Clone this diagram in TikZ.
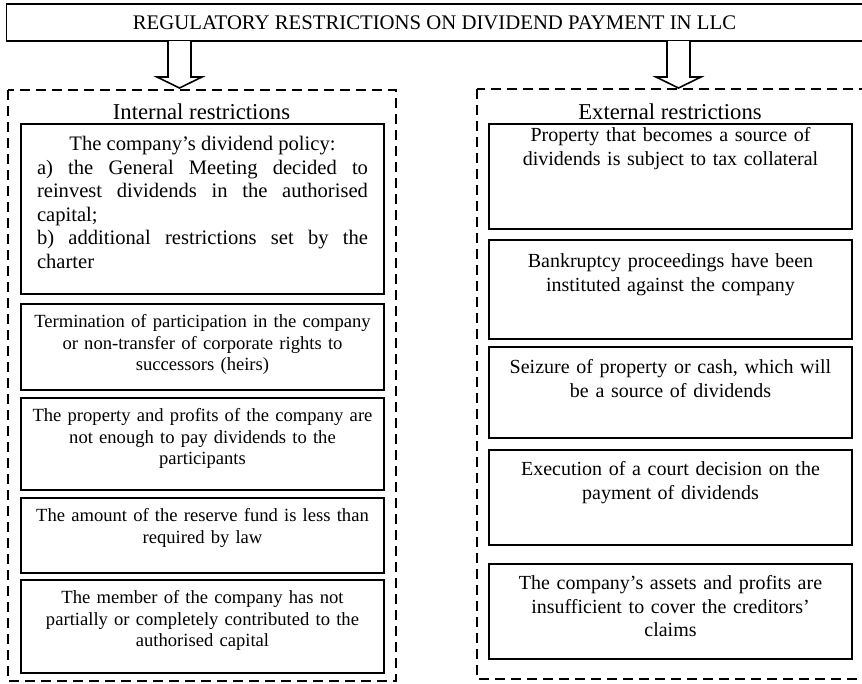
\documentclass[tikz,border=0pt]{standalone}
\usepackage{fontspec}
\setmainfont{Liberation Serif}
\begin{document}
\begin{tikzpicture}[x=1pt,y=-1pt,
  titolo/.style={draw, line width=1.6pt, minimum width=856pt, minimum height=37pt, inner sep=0pt, font=\fontsize{20.75}{24}\selectfont},
  gruppo/.style={line width=2pt, dash pattern=on 10pt off 6pt},
  freccia/.style={line width=1.6pt, fill=white, line join=miter},
  intest/.style={anchor=base, inner sep=0pt, font=\fontsize{22.7}{27}\selectfont},
  voce/.style={draw, line width=1.6pt, anchor=north, text width=343pt, inner xsep=10pt, inner ysep=6pt, align=center, text height=18pt, font=\fontsize{18.6}{21.5}\selectfont},
  voceest/.style={voce, font=\fontsize{20}{23.2}\selectfont}]
\useasboundingbox (0,0) rectangle (862,683);

% Titolo
\node[titolo] (title) at (434.5,22.5) {REGULATORY RESTRICTIONS ON DIVIDEND PAYMENT IN LLC};

% Frecce
\coordinate (f1) at (179.5,41);
\coordinate (f2) at (678.5,41);
\draw[freccia] (f1) ++(-11.5,0) -- ++(0,36) -- ++(-11,0) -- ++(22.5,11) -- ++(22.5,-11) -- ++(-11,0) -- ++(0,-36);
\draw[freccia] (f2) ++(-11.5,0) -- ++(0,36) -- ++(-11,0) -- ++(22.5,11) -- ++(22.5,-11) -- ++(-11,0) -- ++(0,-36);

% Gruppi tratteggiati
\draw[gruppo] (8,90) rectangle (396,681);
\draw[gruppo] (477,89) rectangle (875,679);

% Intestazioni
\node[intest] (hint) at (201.5,119) {Internal restrictions};
\node[intest] (hext) at (670,119) {External restrictions};

% Restrizioni interne
\node[voce, align=justify, inner xsep=16pt, text width=331pt, text height=21pt, text depth=137pt, font=\fontsize{20.6}{23.5}\selectfont] (i1) at (202.5,123)
  {{\centering The company’s dividend policy:\par}
   a) the General Meeting decided to\linebreak reinvest dividends in the authorised\linebreak capital;\par
   b) additional restrictions set by the\linebreak charter};
\node[voce, text depth=56pt] (i2) at (202.5,303) {Termination of participation in the company\\ or non-transfer of corporate rights to\\ successors (heirs)};
\node[voce, text depth=62pt] (i3) at (202.5,397) {The property and profits of the company are\\ not enough to pay dividends to the\\ participants};
\node[voce, text depth=45pt] (i4) at (202.5,497) {The amount of the reserve fund is less than\\ required by law};
\node[voce, text depth=63pt] (i5) at (202.5,579) {The member of the company has not\\ partially or completely contributed to the\\ authorised capital};

% Restrizioni esterne
\node[voceest, text height=12pt, text depth=81pt] (e1) at (670.5,123) {Property that becomes a source of\\ dividends is subject to tax collateral};
\node[voceest, text height=22pt, text depth=65pt] (e2) at (670.5,239) {Bankruptcy proceedings have been\\ instituted against the company};
\node[voceest, text height=21pt, text depth=58pt] (e3) at (670.5,346) {Seizure of property or cash, which will\\ be a source of dividends};
\node[voceest, text height=20pt, text depth=63pt] (e4) at (670.5,449) {Execution of a court decision on the\\ payment of dividends};
\node[voceest, text height=20pt, text depth=63pt] (e5) at (670.5,563) {The company’s assets and profits are\\ insufficient to cover the creditors’\\ claims};
\end{tikzpicture}
\end{document}
